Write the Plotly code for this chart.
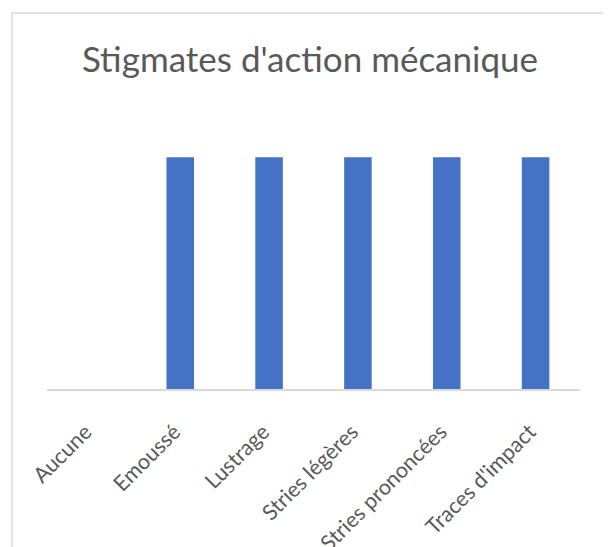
import plotly.graph_objects as go

# Chart data
categories = ["Aucune", "Emoussé", "Lustrage", "Stries légères",
              "Stries prononcées", "Traces d'impact"]
values = [0, 1, 1, 1, 1, 1]

BAR_COLOR = "#4472C4"
TEXT_COLOR = "#595959"
LINE_COLOR = "#D9D9D9"
FONT = "Lato"

fig = go.Figure()

fig.add_trace(go.Bar(
    x=categories,
    y=values,
    marker=dict(color=BAR_COLOR, line=dict(width=0)),
    hoverinfo="x+y",
))

# chart area border (Excel style), bottom edge falls outside the window
fig.add_shape(
    type="rect", xref="paper", yref="paper",
    x0=-0.0657, x1=1.0507, y0=-0.65, y1=1.3525,
    line=dict(color=LINE_COLOR, width=1.5),
    fillcolor="rgba(0,0,0,0)", layer="below",
)

# page body has an 8px margin, so the figure is 8px smaller than the window
fig.update_layout(
    title=dict(
        text="Stigmates d'action mécanique",
        x=0.5008, xanchor="center",
        y=0.9035, yanchor="middle",
        font=dict(size=35, color=TEXT_COLOR, family=FONT),
    ),
    width=603,
    height=539,
    paper_bgcolor="white",
    plot_bgcolor="white",
    font=dict(family=FONT, color=TEXT_COLOR),
    bargap=0.69,
    showlegend=False,
    margin=dict(l=39, r=31, t=103, b=158),
    xaxis=dict(
        tickangle=-45,
        tickfont=dict(size=21.5, color=TEXT_COLOR, family=FONT),
        ticklabelstandoff=20,
        ticklabelshift=-6,
        showline=True,
        linecolor=LINE_COLOR,
        linewidth=1.5,
        showgrid=False,
        ticks="",
        automargin=False,
    ),
    yaxis=dict(
        range=[0, 1.2],
        visible=False,
        showgrid=False,
        zeroline=False,
    ),
)

fig.write_html("out.html")
